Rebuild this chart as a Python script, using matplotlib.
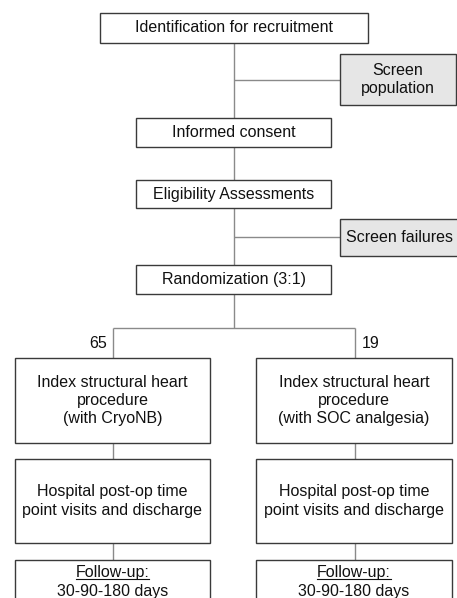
import matplotlib
matplotlib.use("Agg")
import matplotlib.pyplot as plt
from matplotlib.patches import Rectangle

plt.rcParams['font.family'] = ['Liberation Sans', 'DejaVu Sans']

# ---- content ----
main_steps = ["Identification for recruitment", "Informed consent",
              "Eligibility Assessments", "Randomization (3:1)"]
side_steps = ["Screen\npopulation", "Screen failures"]
arm_counts = [65, 19]
arm_procedures = ["Index structural heart\nprocedure\n(with CryoNB)",
                  "Index structural heart\nprocedure\n(with SOC analgesia)"]
arm_hospital = ["Hospital post-op time\npoint visits and discharge",
                "Hospital post-op time\npoint visits and discharge"]
followup_title = "Follow-up:"
followup_days = "30-90-180 days"

W, H = 457, 598
fig = plt.figure(figsize=(W / 100, H / 100), dpi=100)
ax = fig.add_axes([0, 0, 1, 1])
ax.set_xlim(0, W)
ax.set_ylim(H, 0)
ax.axis('off')

EDGE = '#3a3a3a'
LINE = '#8a8a8a'
FILL_SIDE = '#e6e6e6'
TXT = '#111111'
FS = 11.5
LS = 1.29
LW_BOX = 1.0
LW_LINE = 1.0


def box(x0, y0, x1, y1, text=None, fill='white', tx=None):
    ax.add_patch(Rectangle((x0, y0), x1 - x0, y1 - y0, facecolor=fill,
                           edgecolor=EDGE, linewidth=LW_BOX, zorder=3))
    if text is not None:
        ax.text((x0 + x1) / 2 if tx is None else tx, (y0 + y1) / 2, text,
                ha='center', va='center', fontsize=FS, color=TXT,
                linespacing=LS, zorder=4)


def line(xs, ys):
    ax.plot(xs, ys, color=LINE, lw=LW_LINE, zorder=2, solid_capstyle='butt')


# main column
cx = 233.5
main_y = [(13, 43), (118, 147), (180, 208), (265, 294)]
main_x = [(100, 368), (136, 331), (136, 331), (136, 331)]
for (x0, x1), (y0, y1), t in zip(main_x, main_y, main_steps):
    box(x0, y0, x1, y1, t)

line([cx, cx], [43, 118])
line([cx, cx], [147, 180])
line([cx, cx], [208, 265])

# side boxes
box(340, 54, 456, 105, side_steps[0], fill=FILL_SIDE)
line([cx, 340], [80, 80])
box(340, 219, 470, 256, side_steps[1], fill=FILL_SIDE, tx=399)
line([cx, 340], [237, 237])

# branch
arm_cx = [112.5, 354.5]
line([cx, cx], [294, 328])
line([arm_cx[0], arm_cx[1]], [328, 328])
arm_x = [(15, 210), (256, 452)]
for i in range(2):
    line([arm_cx[i], arm_cx[i]], [328, 358])
ax.text(arm_cx[0] - 5, 343, str(arm_counts[0]), ha='right', va='center',
        fontsize=FS, color=TXT)
ax.text(arm_cx[1] + 7, 343, str(arm_counts[1]), ha='left', va='center',
        fontsize=FS, color=TXT)

fig.canvas.draw()
renderer = fig.canvas.get_renderer()
inv = ax.transData.inverted()

for i in range(2):
    x0, x1 = arm_x[i]
    box(x0, 358, x1, 443, arm_procedures[i])
    line([arm_cx[i], arm_cx[i]], [443, 459])
    box(x0, 459, x1, 543, arm_hospital[i])
    line([arm_cx[i], arm_cx[i]], [543, 560])
    box(x0, 560, x1, 640)
    mx = (x0 + x1) / 2
    t = ax.text(mx, 577, followup_title, ha='center', va='baseline',
                fontsize=FS, color=TXT, zorder=4)
    ax.text(mx, 596, followup_days, ha='center', va='baseline',
            fontsize=FS, color=TXT, zorder=4)
    bb = t.get_window_extent(renderer=renderer)
    (bx0, _), (bx1, _) = inv.transform([[bb.x0, bb.y0], [bb.x1, bb.y1]])
    ax.plot([bx0, bx1], [579, 579], color=TXT, lw=0.8, zorder=4)

fig.savefig('out.png', dpi=100)
